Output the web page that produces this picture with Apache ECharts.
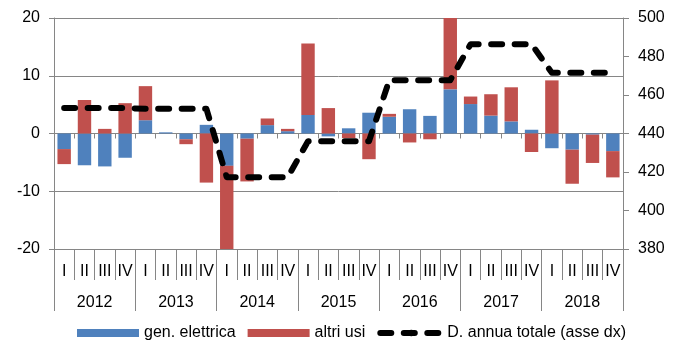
<!DOCTYPE html>
<html>
<head>
<meta charset="utf-8">
<script src="https://cdn.jsdelivr.net/npm/echarts@6/dist/echarts.min.js"></script>
<style>
  html, body { margin: 0; padding: 0; background: #fff; }
  #chart { width: 681px; height: 343px; }
</style>
</head>
<body>
<div id="chart"></div>
<script>
// Quarter and year labels for the two-level category axis
const quarters = ['I','II','III','IV','I','II','III','IV','I','II','III','IV','I','II','III','IV',
                  'I','II','III','IV','I','II','III','IV','I','II','III','IV'];
const years = ['2012','2013','2014','2015','2016','2017','2018'];

// Quarterly contributions (left axis)
const genElettrica = [-2.7, -5.5, -5.7, -4.2, 2.3, 0.2, -1.0, 1.5,
                      -5.6, -0.9, 1.45, 0.4, 3.2, -0.5, 0.9, 3.6,
                      2.9, 4.2, 3.05, 7.65, 5.1, 3.1, 2.1, 0.65,
                      -2.55, -2.8, -0.2, -3.05];
const altriUsi = [-2.6, 5.8, 0.8, 5.25, 5.9, 0, -0.85, -8.5,
                  -14.4, -7.4, 1.15, 0.4, 12.4, 4.4, -0.8, -4.45,
                  0.5, -1.55, -1.0, 12.35, 1.3, 3.7, 5.9, -3.2,
                  9.2, -5.9, -4.9, -4.55];

// Annual total demand repeated over each year's quarters (right axis)
const domandaAnnua = [453.2, 453.2, 453.2, 453.2, 452.8, 452.8, 452.8, 452.8,
                      417.3, 417.3, 417.3, 417.3, 436.0, 436.0, 436.0, 436.0,
                      467.7, 467.7, 467.7, 467.7, 486.4, 486.4, 486.4, 486.4,
                      471.5, 471.5, 471.5, 471.5];

const AXIS_GREY = '#868686';
const FONT = 'Liberation Sans, Arial, sans-serif';

const chart = echarts.init(document.getElementById('chart'), null, { renderer: 'canvas' });

chart.setOption({
  animation: false,
  textStyle: { fontFamily: FONT, color: '#000' },
  grid: { left: 54, right: 58, top: 18, bottom: 94, containLabel: false },
  legend: {
    left: 72,
    top: 320,
    itemWidth: 62,
    itemHeight: 8,
    itemGap: 12,
    textStyle: { fontFamily: FONT, fontSize: 16, color: '#000' },
    lineStyle: { width: 'inherit' },
    data: [
      { name: 'gen. elettrica', icon: 'rect' },
      { name: 'altri usi', icon: 'rect' },
      { name: 'D. annua totale (asse dx)' }
    ]
  },
  xAxis: [
    {
      // baseline through zero with short tick marks
      type: 'category',
      data: quarters,
      position: 'bottom',
      axisLine: { onZero: true, onZeroAxisIndex: 0, lineStyle: { color: AXIS_GREY, width: 1 } },
      axisTick: { show: true, length: 5, interval: 0, lineStyle: { color: AXIS_GREY } },
      axisLabel: { show: false },
      splitLine: { show: false }
    },
    {
      // quarter labels
      type: 'category',
      data: quarters,
      position: 'bottom',
      axisLine: { onZero: false, lineStyle: { color: AXIS_GREY, width: 1 } },
      axisTick: { show: true, length: 31, interval: 0, lineStyle: { color: AXIS_GREY } },
      axisLabel: { interval: 0, margin: 15, fontSize: 16, color: '#000', fontFamily: FONT },
      splitLine: { show: false }
    },
    {
      // year labels
      type: 'category',
      data: years,
      position: 'bottom',
      axisLine: { onZero: false, lineStyle: { color: AXIS_GREY, width: 1 } },
      axisTick: { show: true, length: 62, interval: 0, lineStyle: { color: AXIS_GREY } },
      axisLabel: { interval: 0, margin: 46, fontSize: 16, color: '#000', fontFamily: FONT },
      splitLine: { show: false }
    }
  ],
  yAxis: [
    {
      type: 'value',
      min: -20, max: 20, interval: 10,
      position: 'left',
      axisLine: { show: true, lineStyle: { color: AXIS_GREY, width: 1 } },
      axisTick: { show: true, length: 5, lineStyle: { color: AXIS_GREY } },
      axisLabel: { margin: 14, fontSize: 16, color: '#000', fontFamily: FONT },
      splitLine: { show: true, lineStyle: { color: AXIS_GREY, width: 1 } }
    },
    {
      type: 'value',
      min: 380, max: 500, interval: 20,
      position: 'right',
      axisLine: { show: true, lineStyle: { color: AXIS_GREY, width: 1 } },
      axisTick: { show: true, length: 6, lineStyle: { color: AXIS_GREY } },
      axisLabel: { margin: 15, fontSize: 16, color: '#000', fontFamily: FONT },
      splitLine: { show: false }
    }
  ],
  series: [
    {
      name: 'gen. elettrica',
      type: 'bar',
      stack: 'contrib',
      xAxisIndex: 0, yAxisIndex: 0,
      barWidth: '66%',
      itemStyle: { color: '#4F81BD' },
      data: genElettrica
    },
    {
      name: 'altri usi',
      type: 'bar',
      stack: 'contrib',
      xAxisIndex: 0, yAxisIndex: 0,
      barWidth: '66%',
      itemStyle: { color: '#C0504D' },
      data: altriUsi
    },
    {
      name: 'D. annua totale (asse dx)',
      type: 'line',
      xAxisIndex: 0, yAxisIndex: 1,
      symbol: 'none',
      z: 5,
      lineStyle: { color: '#000', width: 6, type: [11, 12.5], cap: 'round', join: 'round' },
      itemStyle: { color: '#000' },
      data: domandaAnnua
    }
  ]
});
</script>
</body>
</html>
